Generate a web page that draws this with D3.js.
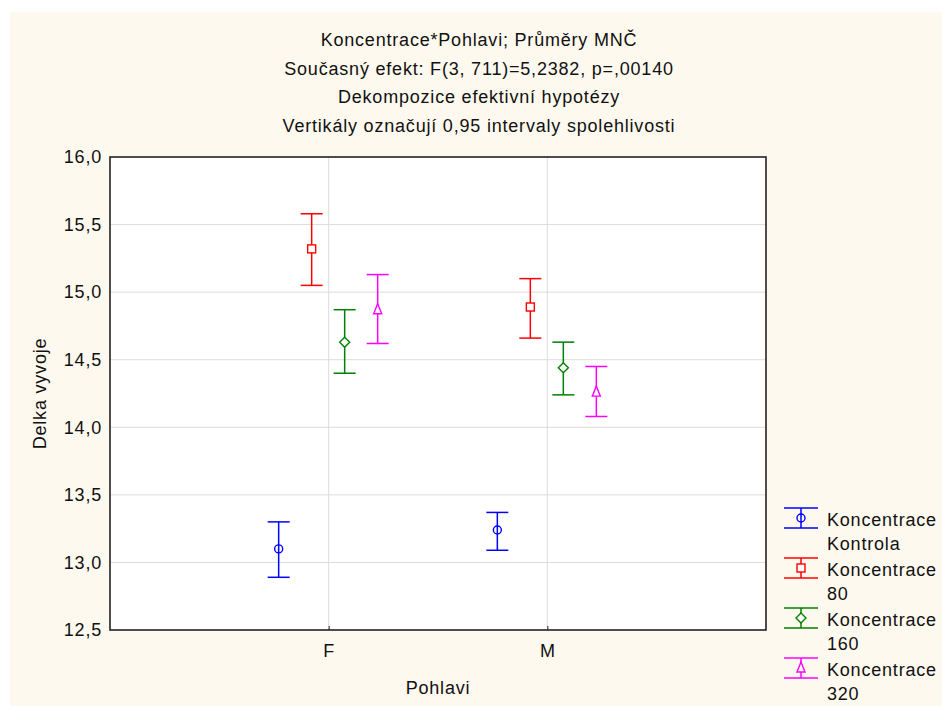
<!DOCTYPE html>
<html>
<head>
<meta charset="utf-8">
<script src="https://cdn.jsdelivr.net/npm/d3@7"></script>
<style>
  html, body { margin: 0; padding: 0; background: #ffffff; }
  svg { display: block; }
  text { font-family: "Liberation Sans", Arial, sans-serif; fill: #111; letter-spacing: 0.8px; }
</style>
</head>
<body>
<svg id="chart" width="942" height="706"></svg>
<script>
// Means plot with 0.95 confidence intervals, Koncentrace x Pohlavi.
'use strict';

var TITLE_LINES = [
  'Koncentrace*Pohlavi; Průměry MNČ',
  'Současný efekt: F(3, 711)=5,2382, p=,00140',
  'Dekompozice efektivní hypotézy',
  'Vertikály označují 0,95 intervaly spolehlivosti'
];
var GROUPS = ['F', 'M'];
var SERIES = ['Kontrola', '80', '160', '320'];
var SERIES_LABELS = [['Koncentrace', 'Kontrola'], ['Koncentrace', '80'], ['Koncentrace', '160'], ['Koncentrace', '320']];
var COLORS = ['#0000ff', '#ff0000', '#008000', '#ff00ff'];
var SHAPES = ['circle', 'square', 'diamond', 'triangle'];
// per series: [F, M]
var MEANS = [[13.10, 13.24], [15.32, 14.89], [14.63, 14.44], [14.87, 14.26]];
var LOWER = [[12.89, 13.09], [15.05, 14.66], [14.40, 14.24], [14.62, 14.08]];
var UPPER = [[13.30, 13.37], [15.58, 15.10], [14.87, 14.63], [15.13, 14.45]];
var Y_TICKS = [12.5, 13.0, 13.5, 14.0, 14.5, 15.0, 15.5, 16.0];

var svg = d3.select('#chart');
var W = 942, H = 706;
var plot = { left: 110, right: 766, top: 157, bottom: 630 };
var fmt = function (v) { return d3.format('.1f')(v).replace('.', ','); };

svg.append('rect').attr('x', 10).attr('y', 12).attr('width', W - 10).attr('height', H - 12)
  .attr('fill', '#fef9ee');
svg.append('rect').attr('x', plot.left).attr('y', plot.top)
  .attr('width', plot.right - plot.left).attr('height', plot.bottom - plot.top)
  .attr('fill', '#ffffff');

var x = d3.scalePoint().domain(GROUPS).range([plot.left, plot.right]).padding(1);
var y = d3.scaleLinear().domain([12.5, 16.0]).range([plot.bottom, plot.top]);
var offset = d3.scalePoint().domain(SERIES).range([-50, 49]);

// grid
svg.append('g').selectAll('line').data(Y_TICKS.slice(1, -1)).join('line')
  .attr('x1', plot.left).attr('x2', plot.right)
  .attr('y1', function (d) { return y(d); }).attr('y2', function (d) { return y(d); })
  .attr('stroke', '#dcdcdc').attr('stroke-width', 1);
svg.append('g').selectAll('line').data(GROUPS).join('line')
  .attr('y1', plot.top).attr('y2', plot.bottom)
  .attr('x1', function (d) { return x(d); }).attr('x2', function (d) { return x(d); })
  .attr('stroke', '#dcdcdc').attr('stroke-width', 1);

// axes
var yAxis = d3.axisLeft(y).tickValues(Y_TICKS).tickFormat(fmt).tickSize(0).tickPadding(8);
var gy = svg.append('g').attr('transform', 'translate(' + plot.left + ',0)').call(yAxis);
gy.select('.domain').remove();
gy.selectAll('text').style('font-family', '"Liberation Sans", Arial, sans-serif')
  .style('font-size', '18px').style('letter-spacing', '0.8px').attr('fill', '#111');

var xAxis = d3.axisBottom(x).tickSize(0).tickPadding(14);
var gx = svg.append('g').attr('transform', 'translate(0,' + plot.bottom + ')').call(xAxis);
gx.select('.domain').remove();
gx.selectAll('text').style('font-family', '"Liberation Sans", Arial, sans-serif')
  .style('font-size', '18px').attr('fill', '#111');
gx.selectAll('.tick').append('line').attr('y1', 0).attr('y2', -4).attr('stroke', '#222');

// frame
svg.append('rect').attr('x', plot.left).attr('y', plot.top)
  .attr('width', plot.right - plot.left).attr('height', plot.bottom - plot.top)
  .attr('fill', 'none').attr('stroke', '#222').attr('stroke-width', 1.6);

function drawMarker(g, shape, cx, cy, color) {
  if (shape === 'circle') {
    g.append('circle').attr('cx', cx).attr('cy', cy).attr('r', 4)
      .attr('fill', 'none').attr('stroke', color).attr('stroke-width', 1.4);
  } else if (shape === 'square') {
    g.append('rect').attr('x', cx - 4).attr('y', cy - 4).attr('width', 8).attr('height', 8)
      .attr('fill', '#ffffff').attr('stroke', color).attr('stroke-width', 1.4);
  } else if (shape === 'diamond') {
    g.append('path').attr('d', 'M' + cx + ',' + (cy - 5) + 'L' + (cx + 5) + ',' + cy + 'L' + cx + ',' + (cy + 5) + 'L' + (cx - 5) + ',' + cy + 'Z')
      .attr('fill', '#ffffff').attr('stroke', color).attr('stroke-width', 1.4);
  } else {
    g.append('path').attr('d', 'M' + cx + ',' + (cy - 6) + 'L' + (cx + 4) + ',' + (cy + 4) + 'L' + (cx - 4) + ',' + (cy + 4) + 'Z')
      .attr('fill', '#ffffff').attr('stroke', color).attr('stroke-width', 1.4);
  }
}

function drawErrorBar(g, cx, yTop, yBot, half, color) {
  g.append('line').attr('x1', cx).attr('x2', cx).attr('y1', yTop).attr('y2', yBot)
    .attr('stroke', color).attr('stroke-width', 1.5);
  [yTop, yBot].forEach(function (yy) {
    g.append('line').attr('x1', cx - half).attr('x2', cx + half).attr('y1', yy).attr('y2', yy)
      .attr('stroke', color).attr('stroke-width', 1.5);
  });
}

var marks = svg.append('g');
SERIES.forEach(function (s, si) {
  GROUPS.forEach(function (gName, gi) {
    var cx = x(gName) + offset(s);
    drawErrorBar(marks, cx, y(UPPER[si][gi]), y(LOWER[si][gi]), 11, COLORS[si]);
    drawMarker(marks, SHAPES[si], cx, y(MEANS[si][gi]), COLORS[si]);
  });
});

// titles
svg.append('g').selectAll('text').data(TITLE_LINES).join('text')
  .attr('x', 479).attr('y', function (d, i) { return 46 + i * 28.5; })
  .attr('text-anchor', 'middle').style('font-size', '18px').text(function (d) { return d; });

svg.append('text').attr('transform', 'translate(46,' + ((plot.top + plot.bottom) / 2) + ') rotate(-90)')
  .attr('text-anchor', 'middle').style('font-size', '18px').text('Delka vyvoje');
svg.append('text').attr('x', (plot.left + plot.right) / 2).attr('y', 694)
  .attr('text-anchor', 'middle').style('font-size', '18px').text('Pohlavi');

// legend
var legend = svg.append('g').attr('transform', 'translate(784,518)');
SERIES.forEach(function (s, si) {
  var g = legend.append('g').attr('transform', 'translate(0,' + (si * 50) + ')');
  drawErrorBar(g, 17, -10, 10, 17, COLORS[si]);
  drawMarker(g, SHAPES[si], 17, 0, COLORS[si]);
  g.selectAll('text.lbl').data(SERIES_LABELS[si]).join('text').attr('class', 'lbl')
    .attr('x', 43).attr('y', function (d, i) { return 8 + i * 24; })
    .style('font-size', '18px').text(function (d) { return d; });
});
</script>
</body>
</html>
